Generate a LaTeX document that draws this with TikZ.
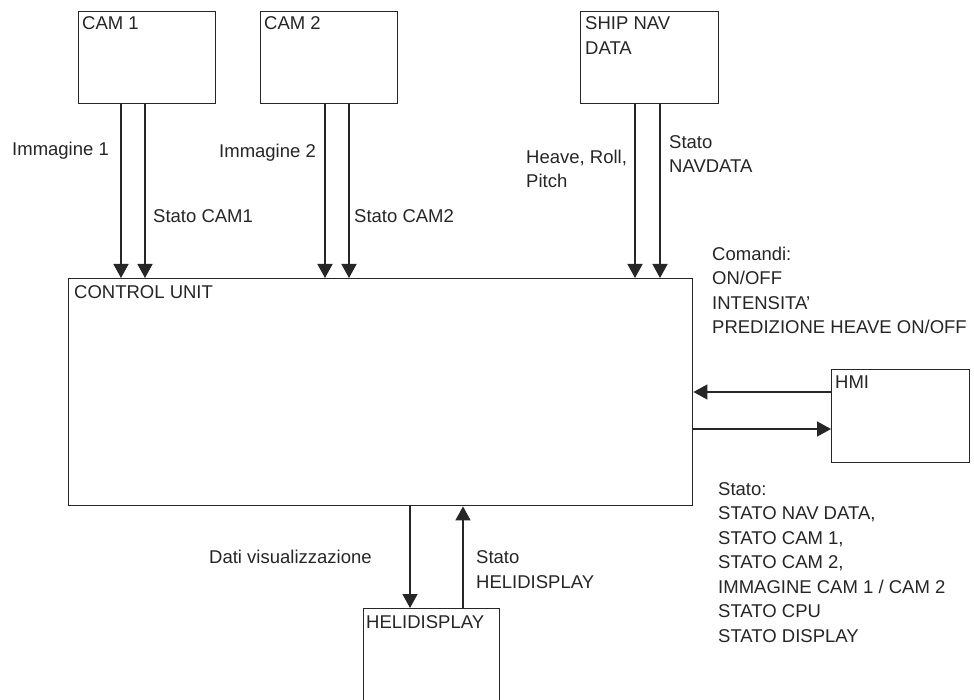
\documentclass[tikz,border=0pt]{standalone}
\usepackage{fontspec}
\setmainfont{Liberation Sans}
\usetikzlibrary{arrows.meta,calc}
\definecolor{ink}{gray}{0.15}
\begin{document}
\begin{tikzpicture}[x=1pt,y=-1pt,
  box/.style={draw=ink,line width=1.4pt,rectangle,inner sep=0pt,anchor=north west},
  lbl/.style={text=ink,inner sep=0pt,anchor=base west,font=\fontsize{18.5}{24.5}\selectfont,align=left},
  arr/.style={draw=ink,line width=1.4pt,-{Triangle[width=15pt,length=14pt]}}]
\fill[white] (0,0) rectangle (974,700);
\useasboundingbox (0,0) rectangle (974,700);
\clip (0,0) rectangle (974,700);

% boxes
\node[box,minimum width=137pt,minimum height=92pt] (cam1) at (78,11) {};
\node[box,minimum width=137pt,minimum height=92pt] (cam2) at (260,11) {};
\node[box,minimum width=138pt,minimum height=92pt] (nav) at (580,11) {};
\node[box,minimum width=624pt,minimum height=227pt] (cu) at (68,278) {};
\node[box,minimum width=138pt,minimum height=93pt] (hmi) at (831,369) {};
\node[box,minimum width=136pt,minimum height=140pt] (heli) at (363,608) {};

% box titles (anchor = baseline of the last line)
\node[lbl] (cam1t) at (82,30) {CAM 1};
\node[lbl] (cam2t) at (264,30) {CAM 2};
\node[lbl] (navt) at (585,54.5) {SHIP NAV\\DATA};
\node[lbl] (cut) at (74,299) {CONTROL UNIT};
\node[lbl] (hmit) at (835,388) {HMI};
\node[lbl] (helit) at (366,628) {HELIDISPLAY};

% connector x positions
\coordinate (a1) at (121,0);
\coordinate (a2) at (145,0);
\coordinate (b1) at (325,0);
\coordinate (b2) at (349,0);
\coordinate (c1) at (635,0);
\coordinate (c2) at (660,0);
\coordinate (h1) at (0,392);
\coordinate (h2) at (0,429);
\coordinate (d1) at (410,0);
\coordinate (d2) at (463,0);

\draw[arr] (cam1.south -| a1) -- (cu.north -| a1);
\draw[arr] (cam1.south -| a2) -- (cu.north -| a2);
\draw[arr] (cam2.south -| b1) -- (cu.north -| b1);
\draw[arr] (cam2.south -| b2) -- (cu.north -| b2);
\draw[arr] (nav.south -| c1) -- (cu.north -| c1);
\draw[arr] (nav.south -| c2) -- (cu.north -| c2);
\draw[arr] (hmi.west |- h1) -- (cu.east |- h1);
\draw[arr] (cu.east |- h2) -- (hmi.west |- h2);
\draw[arr] (cu.south -| d1) -- (heli.north -| d1);
\draw[arr] (heli.north -| d2) -- (cu.south -| d2);

% connector labels (anchor = baseline of the last line)
\node[lbl] (l1) at (12,156) {Immagine 1};
\node[lbl] (l2) at (153,223) {Stato CAM1};
\node[lbl] (l3) at (219,158) {Immagine 2};
\node[lbl] (l4) at (354,223) {Stato CAM2};
\node[lbl] (l5) at (526,188) {Heave, Roll,\\Pitch};
\node[lbl] (l6) at (669,173) {Stato\\NAVDATA};
\node[lbl] (l7) at (712,334) {Comandi:\\ON/OFF\\INTENSITA'\\PREDIZIONE HEAVE ON/OFF};
\node[lbl] (l8) at (718,642) {Stato:\\STATO NAV DATA,\\STATO CAM 1,\\STATO CAM 2,\\IMMAGINE CAM 1 / CAM 2\\STATO CPU\\STATO DISPLAY};
\node[lbl] (l9) at (209,563) {Dati visualizzazione};
\node[lbl] (l10) at (476,588) {Stato\\HELIDISPLAY};
\end{tikzpicture}
\end{document}
